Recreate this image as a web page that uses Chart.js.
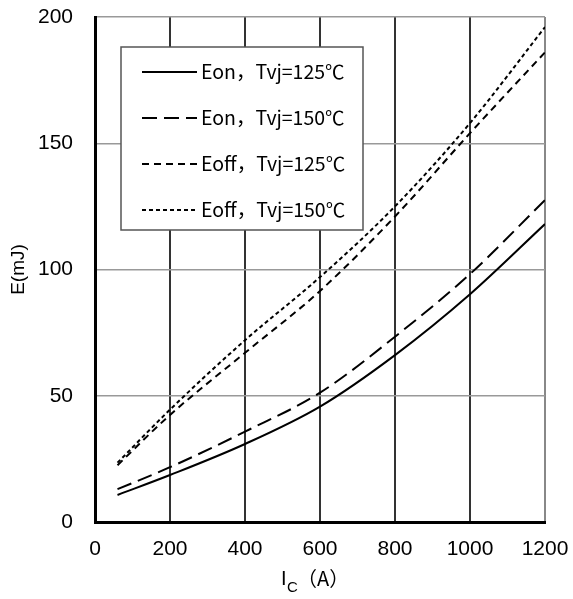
<!DOCTYPE html>
<html>
<head>
<meta charset="utf-8">
<script src="https://cdn.jsdelivr.net/npm/chart.js@4.4.1/dist/chart.umd.min.js"></script>
<style>
  html, body { margin: 0; padding: 0; background: #fff; }
  #wrap { width: 573px; height: 599px; }
</style>
</head>
<body>
<div id="wrap"><canvas id="myChart" width="573" height="599"></canvas></div>
<script>
// collector current, A
var currents = [60, 200, 400, 600, 800, 1000, 1200];
// switching energy, mJ
var eon125 = [10.7, 18.6, 30.9, 45.7, 66.1, 90.2, 118];
var eon150 = [13, 21.7, 35.8, 51.2, 73.4, 98.2, 127.5];
var eoff125 = [22.5, 42.4, 67, 91.5, 121, 154, 186];
var eoff150 = [23.5, 44.5, 72, 97, 125, 158, 196];
var seriesNames = ['Eon，Tvj=125℃', 'Eon，Tvj=150℃', 'Eoff，Tvj=125℃', 'Eoff，Tvj=150℃'];
var xTicks = [0, 200, 400, 600, 800, 1000, 1200];
var yTicks = [0, 50, 100, 150, 200];

var tickFont = { family: '"Liberation Sans", Arial, sans-serif', size: 21 };

function pts(ys) {
  return currents.map(function (x, i) { return { x: x, y: ys[i] }; });
}

function line(label, ys, dash) {
  return {
    label: label,
    data: pts(ys),
    borderColor: '#000',
    borderWidth: 2,
    borderDash: dash,
    pointRadius: 0,
    fill: false,
    cubicInterpolationMode: 'monotone'
  };
}

// legend box drawn inside the plot, like the datasheet
var boxLegend = {
  id: 'boxLegend',
  afterDatasetsDraw: function (chart) {
    var c = chart.ctx;
    c.save();
    c.fillStyle = '#fff';
    c.fillRect(121, 47, 242, 183);
    c.strokeStyle = '#555';
    c.lineWidth = 1.5;
    c.strokeRect(121, 47, 242, 183);
    var rows = [72, 118, 164, 210];
    chart.data.datasets.forEach(function (ds, i) {
      var y = rows[i];
      c.beginPath();
      c.setLineDash(ds.borderDash || []);
      c.lineWidth = 2;
      c.strokeStyle = '#000';
      c.moveTo(142, y);
      c.lineTo(197, y);
      c.stroke();
      c.setLineDash([]);
      c.fillStyle = '#000';
      c.font = '19.5px "Noto Sans CJK SC", "Open Sans", sans-serif';
      c.textBaseline = 'middle';
      c.fillText(ds.label, 201, y);
    });
    c.restore();
  }
};

// x title with subscript C
var xTitle = {
  id: 'xTitle',
  afterDraw: function (chart) {
    var c = chart.ctx;
    c.save();
    c.fillStyle = '#000';
    c.textBaseline = 'alphabetic';
    c.font = '20px "Liberation Sans", Arial, sans-serif';
    c.fillText('I', 281, 585);
    c.font = '15px "Liberation Sans", Arial, sans-serif';
    c.fillText('C', 287, 592);
    c.font = '20px "Noto Sans CJK SC", sans-serif';
    c.fillText('（A）', 297, 586);
    c.restore();
  }
};

var ctx = document.getElementById('myChart');
var myChart = new Chart(ctx, {
  type: 'line',
  data: {
    datasets: [
      line(seriesNames[0], eon125, []),
      line(seriesNames[1], eon150, [15, 7]),
      line(seriesNames[2], eoff125, [7, 5]),
      line(seriesNames[3], eoff150, [4, 3])
    ]
  },
  options: {
    responsive: false,
    maintainAspectRatio: false,
    animation: false,
    layout: { padding: { top: 17, right: 28, left: 0, bottom: 0 } },
    plugins: {
      legend: { display: false },
      tooltip: { enabled: false }
    },
    scales: {
      x: {
        type: 'linear',
        min: 0,
        max: 1200,
        afterFit: function (s) { s.height = 77; s.paddingLeft = 0; s.paddingRight = 0; },
        afterBuildTicks: function (s) { s.ticks = xTicks.map(function (v) { return { value: v }; }); },
        grid: {
          drawTicks: false,
          color: function (c) { return c.tick && c.tick.value === 1200 ? '#888' : '#333'; },
          lineWidth: 2
        },
        border: { color: '#000', width: 3 },
        ticks: {
          color: '#000',
          padding: 15,
          font: tickFont,
          callback: function (v) { return String(v); }
        }
      },
      y: {
        min: 0,
        max: 200,
        afterFit: function (s) { s.width = 95; s.paddingTop = 0; s.paddingBottom = 0; },
        afterBuildTicks: function (s) { s.ticks = yTicks.map(function (v) { return { value: v }; }); },
        grid: { drawTicks: false, color: '#999', lineWidth: 1.5 },
        border: { color: '#000', width: 3 },
        ticks: {
          color: '#000',
          padding: 22,
          font: tickFont,
          callback: function (v) { return String(v); }
        },
        title: {
          display: true,
          text: 'E(mJ)',
          color: '#000',
          padding: { top: 7, bottom: 0 },
          font: { family: '"Liberation Sans", Arial, sans-serif', size: 19 }
        }
      }
    }
  },
  plugins: [boxLegend, xTitle]
});
</script>
</body>
</html>
